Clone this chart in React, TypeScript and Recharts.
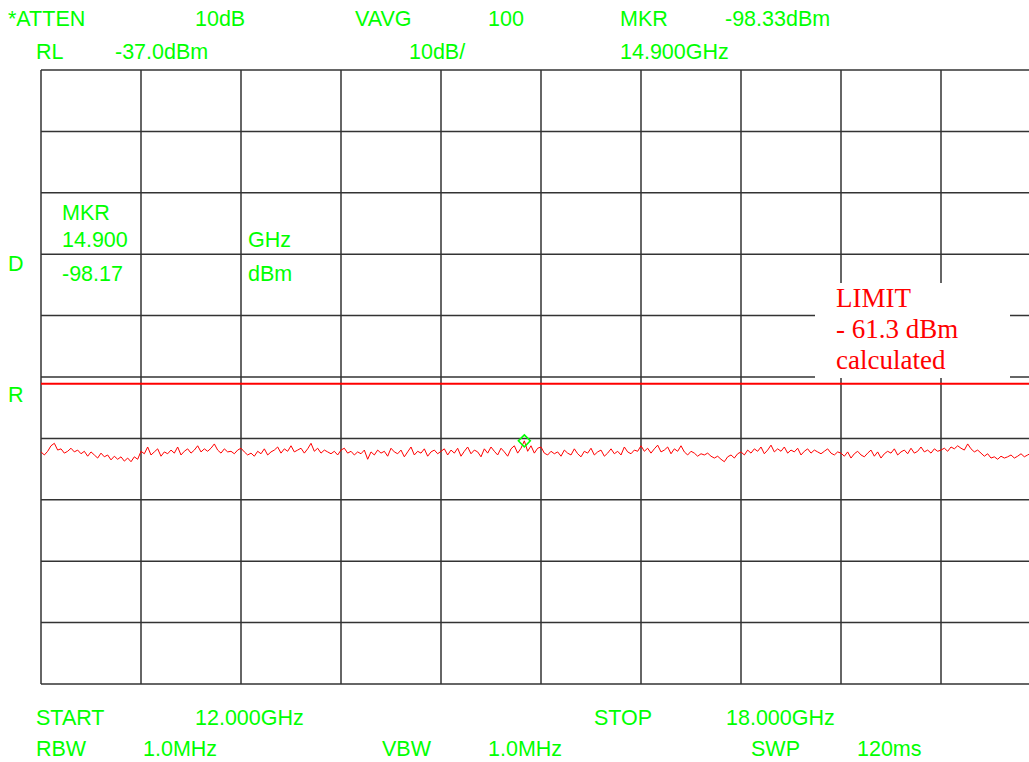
import React from "react";
import { LineChart, Line, XAxis, YAxis, CartesianGrid, ReferenceLine, ReferenceDot } from "recharts";

// sweep settings
const START_GHZ = 12;
const STOP_GHZ = 18;
const STEP_GHZ = 0.02;
const REF_LEVEL = -37;
const BOTTOM_LEVEL = -137;

const FREQ_TICKS = [12, 12.6, 13.2, 13.8, 14.4, 15, 15.6, 16.2, 16.8, 17.4, 18];
const LEVEL_TICKS = [-137, -127, -117, -107, -97, -87, -77, -67, -57, -47, -37];

// trace readout (dBm), one value per 20 MHz
const TRACE = [
  -99.2, -99.7, -99.1, -98.2, -97.8, -98.9, -98.7, -99.4, -99.1, -98.6, -99.2, -98.9, -99.5, -99.1, -99.9,
  -99.2, -99.7, -100.2, -99.4, -100.0, -99.7, -100.5, -99.9, -100.4, -100.0, -100.7, -100.2, -100.8, -100.0, -100.4,
  -99.1, -99.5, -98.4, -99.7, -99.2, -98.7, -99.9, -99.2, -99.5, -98.9, -99.4, -98.4, -99.7, -99.1, -98.7,
  -99.4, -98.9, -98.2, -99.2, -98.7, -99.1, -98.6, -97.9, -98.9, -99.4, -98.7, -99.2, -99.1, -99.5, -98.9,
  -98.6, -99.2, -99.7, -99.4, -99.9, -99.1, -99.5, -98.7, -99.7, -99.2, -98.9, -98.4, -99.4, -98.7, -99.1,
  -98.2, -99.2, -98.9, -98.6, -99.4, -98.7, -97.8, -99.1, -98.6, -99.4, -98.9, -99.2, -99.5, -99.1, -99.7,
  -98.9, -98.6, -99.4, -99.1, -99.7, -99.2, -99.5, -98.9, -100.4, -99.2, -99.7, -98.9, -99.4, -99.1, -99.9,
  -98.6, -99.2, -99.5, -98.9, -100.0, -99.2, -98.4, -99.7, -99.1, -99.4, -98.7, -99.9, -99.2, -98.9, -99.5,
  -99.1, -98.7, -99.7, -98.9, -99.4, -98.6, -99.9, -99.1, -98.4, -99.5, -98.9, -99.2, -100.0, -98.7, -99.4,
  -98.4, -99.1, -99.7, -98.6, -99.2, -99.9, -98.7, -98.2, -99.4, -98.6, -97.4, -99.1, -98.2, -99.4, -98.6,
  -98.4, -99.4, -99.7, -99.1, -99.5, -99.2, -99.9, -98.9, -99.4, -99.7, -98.7, -99.5, -100.0, -99.1, -99.4,
  -98.6, -99.7, -99.2, -98.9, -99.9, -99.4, -98.7, -99.5, -99.1, -99.7, -98.4, -99.2, -99.5, -98.9, -99.1,
  -98.2, -99.1, -98.6, -99.4, -98.7, -98.1, -99.2, -98.9, -98.4, -99.5, -98.7, -99.1, -98.2, -99.2, -99.7,
  -99.1, -99.4, -99.9, -99.5, -99.7, -99.4, -99.9, -100.2, -99.9, -100.4, -100.8, -100.0, -99.7, -100.2, -99.5,
  -99.2, -99.7, -98.9, -99.4, -98.7, -99.1, -98.4, -99.5, -98.9, -98.1, -99.2, -98.7, -99.1, -98.4, -99.4,
  -98.9, -99.2, -98.6, -99.7, -99.1, -98.7, -99.4, -98.9, -99.2, -99.5, -99.1, -98.7, -99.4, -99.7, -99.2,
  -99.4, -99.9, -99.2, -100.2, -99.5, -99.1, -99.7, -100.0, -99.4, -98.9, -99.9, -99.2, -100.2, -99.5, -99.1,
  -99.4, -98.7, -99.7, -99.2, -98.9, -99.5, -98.6, -99.4, -99.1, -98.4, -99.2, -98.9, -99.4, -98.7, -99.1,
  -98.9, -98.6, -99.1, -98.4, -98.7, -98.2, -98.6, -98.9, -97.9, -98.7, -99.2, -98.9, -99.4, -99.9, -99.5,
  -100.2, -100.0, -100.4, -99.9, -100.2, -100.0, -99.7, -100.2, -99.9, -99.5, -100.0, -99.7, -99.4, -99.9, -100.2,
  -99.7,
];

const MARKER_GHZ = 14.9;
const LIMIT_LINE = -88.1;

const data = TRACE.map((v, i) => ({ f: +(START_GHZ + i * STEP_GHZ).toFixed(2), v }));
const markerVal = data.find((d) => Math.abs(d.f - MARKER_GHZ) < 1e-6)?.v ?? -98.17;

const GREEN = "#00ff00";
const RED = "#ff0000";

// header / footer readouts: [text, x, baseline]
const READOUTS: [string, number, number][] = [
  ["*ATTEN", 8, 26], ["10dB", 195, 26], ["VAVG", 355, 26], ["100", 488, 26], ["MKR", 620, 26], ["-98.33dBm", 725, 26],
  ["RL", 36, 59], ["-37.0dBm", 115, 59], ["10dB/", 409, 59], ["14.900GHz", 620, 59],
  ["MKR", 62, 220], ["14.900", 62, 247], ["GHz", 248, 247], ["-98.17", 62, 281], ["dBm", 248, 281],
  ["D", 8, 271], ["R", 8, 402],
  ["START", 36, 725], ["12.000GHz", 195, 725], ["STOP", 594, 725], ["18.000GHz", 726, 725],
  ["RBW", 36, 756], ["1.0MHz", 143, 756], ["VBW", 382, 756], ["1.0MHz", 488, 756], ["SWP", 751, 756], ["120ms", 857, 756],
];

const LIMIT_TEXT = ["LIMIT", "- 61.3 dBm", "calculated"];

const Diamond = (props: any) => {
  const { cx, cy } = props;
  const r = 6;
  return (
    <path
      d={`M${cx},${cy - r} L${cx + r},${cy} L${cx},${cy + r} L${cx - r},${cy} Z`}
      fill="none"
      stroke={GREEN}
      strokeWidth={1.5}
    />
  );
};

export default function App() {
  return (
    <div style={{ position: "absolute", left: 0, top: 0, width: 1029, height: 762, overflow: "hidden", background: "#fff" }}>
      <LineChart width={1060} height={762} data={data} margin={{ top: 70, right: 19, bottom: 78, left: 41 }}>
        <XAxis dataKey="f" type="number" domain={[START_GHZ, STOP_GHZ]} ticks={FREQ_TICKS} hide />
        <YAxis type="number" domain={[BOTTOM_LEVEL, REF_LEVEL]} ticks={LEVEL_TICKS} hide />
        <CartesianGrid stroke="#333" strokeWidth={1.5} />
        <ReferenceLine y={LIMIT_LINE} stroke={RED} strokeWidth={2} />
        <Line dataKey="v" stroke={RED} strokeWidth={1} dot={false} isAnimationActive={false} />
        <ReferenceDot x={MARKER_GHZ} y={markerVal} shape={Diamond} />
      </LineChart>
      <svg width={1029} height={762} style={{ position: "absolute", left: 0, top: 0, pointerEvents: "none" }}>
        {READOUTS.map(([t, x, y], i) => (
          <text key={i} x={x} y={y} fill={GREEN} fontFamily="Liberation Sans, Arial, sans-serif" fontSize={21.5}>
            {t}
          </text>
        ))}
        <rect x={815} y={283} width={195} height={95} fill="#fff" />
        {LIMIT_TEXT.map((t, i) => (
          <text key={t} x={836} y={307 + i * 31} fill={RED} fontFamily="Liberation Serif, Times New Roman, serif" fontSize={27}>
            {t}
          </text>
        ))}
      </svg>
    </div>
  );
}
